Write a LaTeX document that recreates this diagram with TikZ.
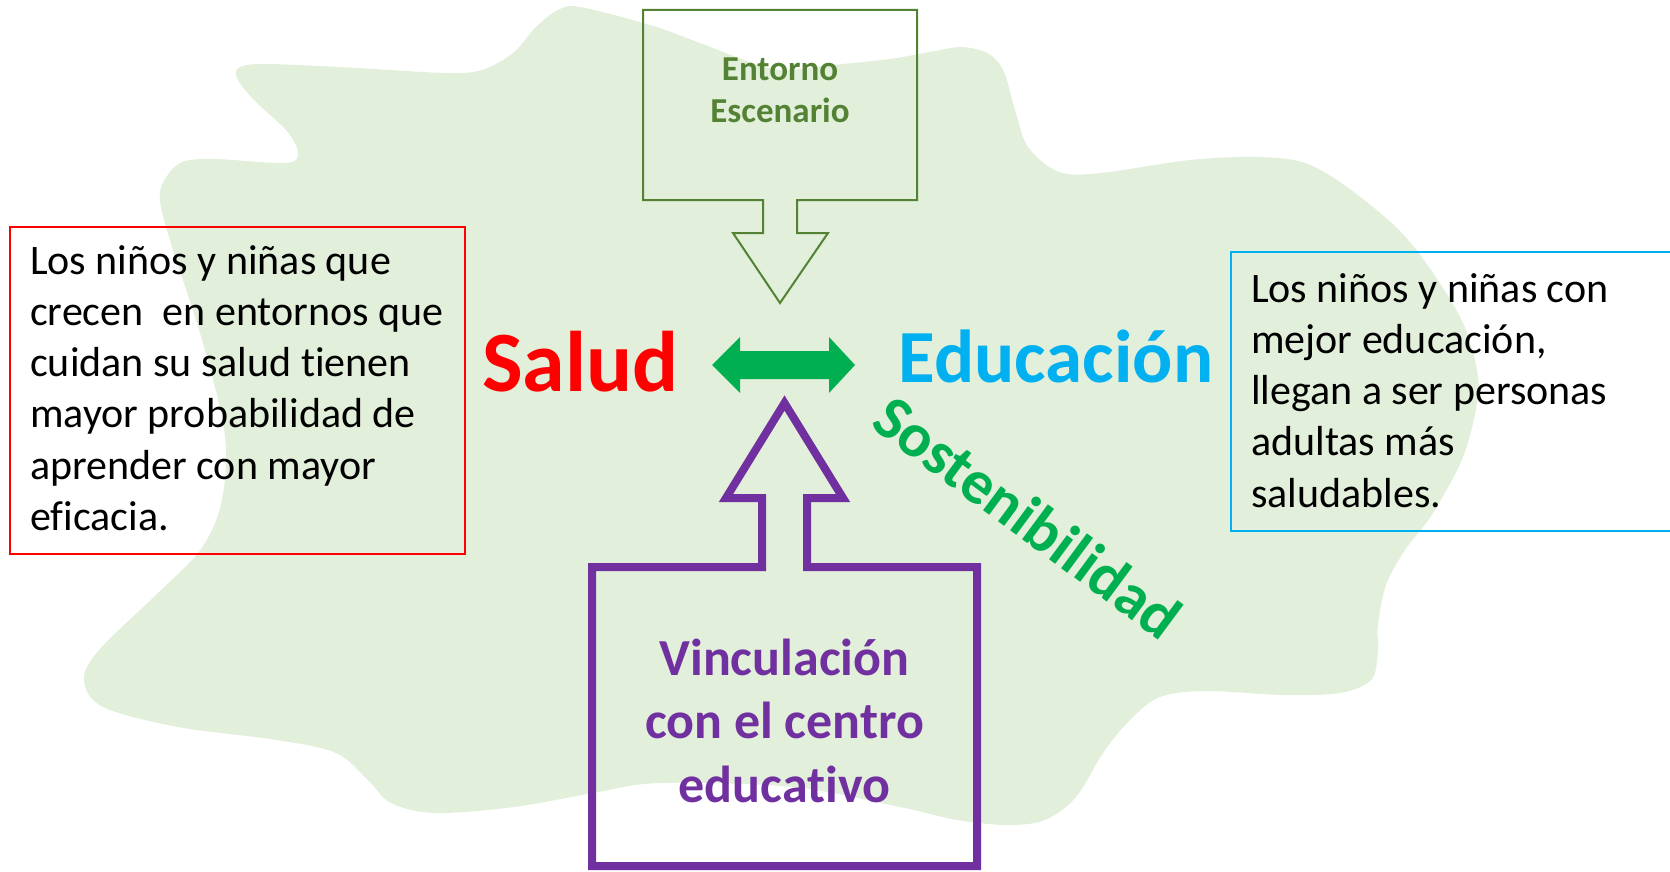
\documentclass[tikz,border=0pt]{standalone}
\usepackage{fontspec}
\setmainfont{Carlito}[Ligatures=NoCommon]
\definecolor{blobc}{HTML}{E2EFDA}
\definecolor{olive}{HTML}{548235}
\definecolor{purp}{HTML}{7030A0}
\definecolor{cyanb}{HTML}{00B0F0}
\definecolor{greena}{HTML}{00B050}
\begin{document}
\begin{tikzpicture}[x=1pt,y=-1pt,
  infobox/.style={draw, line width=2pt, inner sep=0pt, anchor=north west},
  boxtext/.style={inner sep=0pt, anchor=north west, align=left, text=black,
    font=\fontsize{42}{51.2}\selectfont},
  calltext/.style 2 args={inner sep=0pt, anchor=north, align=center, font=\bfseries\fontsize{#1}{#2}\selectfont},
  bigword/.style={inner sep=0pt, anchor=base, font=\bfseries\fontsize{#1}{#1}\selectfont}
]
\useasboundingbox (0,0) rectangle (1670,872);
% background blob
\fill[blobc] plot[smooth cycle, tension=0.55] coordinates {
 (580,7) (650,25) (700,43) (750,62) (783,70) (833,65) (890,59) (930,52) (962,47)
 (989,54) (1004,72) (1015,110) (1028,147) (1059,172) (1101,173) (1190,160) (1258,157)
 (1305,163) (1347,187) (1399,230) (1433,273) (1463,323) (1477,370) (1477,403)
 (1463,457) (1433,513) (1405,550) (1386,585) (1378,625) (1378,653) (1371,680)
 (1340,693) (1283,695) (1206,691) (1160,697) (1130,720) (1103,753) (1076,797)
 (1045,820) (1007,825) (957,820) (900,807) (793,787) (660,783) (593,793) (514,807)
 (435,813) (391,803) (368,780) (336,753) (277,740) (178,727) (103,707) (84,680)
 (99,650) (158,593) (198,553) (218,515) (226,467) (222,417) (200,333) (173,250)
 (161,207) (162,185) (180,163) (214,159) (286,163) (298,152) (286,130) (254,100)
 (237,78) (240,67) (268,64) (357,68) (446,73) (482,70) (513,53) (536,27) (558,10)};
% left red box
\node[infobox, draw=red, minimum width=455pt, minimum height=327pt] (redbox) at (9,226) {};
\node[boxtext] (redtext) at (30,238.16) {\strut Los niños y niñas que\\
crecen\ \ en entornos que\\ cuidan su salud tienen\\ mayor probabilidad de\\
aprender con mayor\\ eficacia.};
% right blue box
\node[infobox, draw=cyanb, minimum width=460pt, minimum height=279pt] (bluebox) at (1230,251) {};
\node[boxtext] (bluetext) at (1251,266.16) {\strut Los niños y niñas con\\
mejor educación,\\ llegan a ser personas\\ adultas más\\ saludables.};
% top callout
\draw[olive, line width=2pt, line join=miter] (643,10) -- (917,10) -- (917,200) -- (797,200)
  -- (797,233) -- (828,233) -- (780,303) -- (733,233) -- (763,233) -- (763,200)
  -- (643,200) -- cycle;
\node[calltext={35}{42.7}, text=olive] (entorno) at (780,50.1) {\strut Entorno\\ Escenario};
% bottom callout
\draw[purp, line width=8pt, line join=miter, miter limit=10] (592,567) -- (762,567) -- (762,498)
  -- (726,498) -- (784.5,403) -- (843,498) -- (807,498) -- (807,567) -- (977,567)
  -- (977,866) -- (592,866) -- cycle;
\node[calltext={52}{63.5}, text=purp] (vinc) at (784.5,630.55) {\strut Vinculación\\ con el centro\\ educativo};
% central words
\node[bigword=86, text=red] (salud) at (580.5,391) {Salud};
\node[bigword=75, text=cyanb] (educ) at (1056,382) {Educación};
\fill[greena] (712,365) -- (740,337) -- (740,351) -- (829,351) -- (829,337) -- (855,365)
  -- (829,393) -- (829,379) -- (740,379) -- (740,393) -- cycle;
\node[inner sep=0pt, rotate=-36.5, text=greena, font=\bfseries\fontsize{62}{62}\selectfont] (sost) at (1028,517) {Sostenibilidad};
\end{tikzpicture}
\end{document}
